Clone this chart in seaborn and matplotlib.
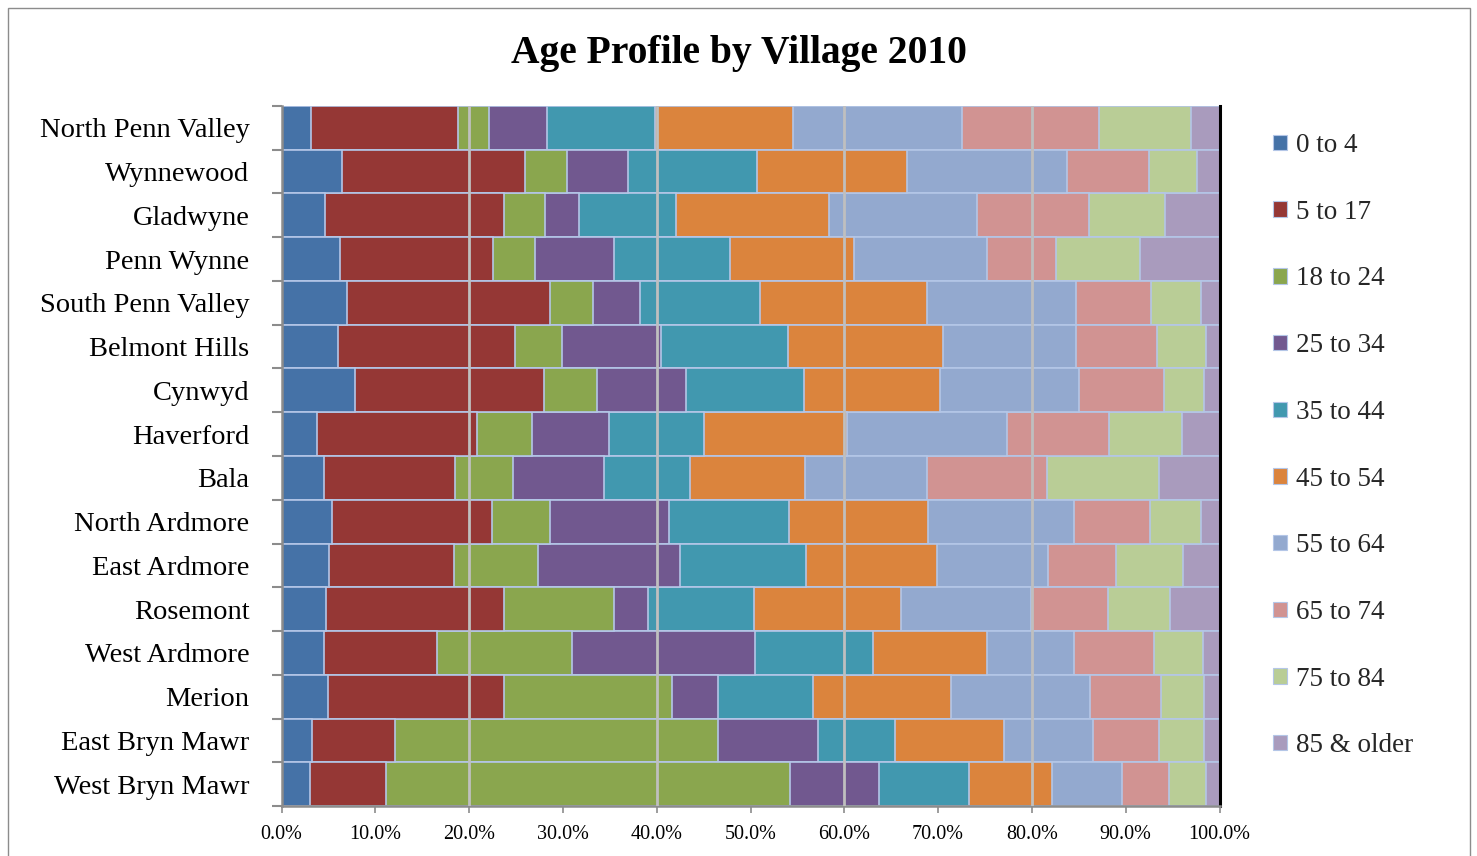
import numpy as np
import pandas as pd
import matplotlib
matplotlib.use("Agg")
import matplotlib.pyplot as plt
from matplotlib.patches import Patch, Rectangle
from matplotlib.ticker import FixedLocator, FixedFormatter
import seaborn as sns

# ---------------- data (percent of population) ----------------
villages = ["North Penn Valley", "Wynnewood", "Gladwyne", "Penn Wynne",
            "South Penn Valley", "Belmont Hills", "Cynwyd", "Haverford",
            "Bala", "North Ardmore", "East Ardmore", "Rosemont",
            "West Ardmore", "Merion", "East Bryn Mawr", "West Bryn Mawr"]

age_groups = ["0 to 4", "5 to 17", "18 to 24", "25 to 34", "35 to 44",
              "45 to 54", "55 to 64", "65 to 74", "75 to 84", "85 & older"]

age_0_4   = [3.2, 6.5, 4.6, 6.2, 7.0, 6.0, 7.8, 3.8, 4.5, 5.4, 5.1, 4.7, 4.5, 5.0, 3.2, 3.0]
age_5_17  = [15.6, 19.5, 19.1, 16.4, 21.6, 18.9, 20.2, 17.1, 14.0, 17.1, 13.3, 19.0, 12.1, 18.7, 8.9, 8.2]
age_18_24 = [3.3, 4.4, 4.4, 4.5, 4.6, 5.0, 5.6, 5.8, 6.2, 6.2, 9.0, 11.8, 14.4, 17.9, 34.4, 43.1]
age_25_34 = [6.2, 6.5, 3.6, 8.4, 5.0, 10.5, 9.5, 8.2, 9.7, 12.6, 15.1, 3.6, 19.5, 4.9, 10.7, 9.5]
age_35_44 = [11.6, 13.8, 10.3, 12.4, 12.8, 13.5, 12.5, 10.2, 9.1, 12.9, 13.5, 11.3, 12.6, 10.2, 8.2, 9.6]
age_45_54 = [14.7, 16.0, 16.3, 13.3, 17.8, 16.5, 14.5, 15.2, 12.3, 14.8, 13.9, 15.6, 12.2, 14.7, 11.6, 8.8]
age_55_64 = [18.0, 17.0, 15.8, 14.2, 15.9, 14.2, 14.8, 17.1, 13.0, 15.6, 11.9, 13.9, 9.3, 14.8, 9.5, 7.5]
age_65_74 = [14.6, 8.8, 11.9, 7.3, 8.0, 8.6, 9.1, 10.9, 12.8, 8.1, 7.3, 8.2, 8.5, 7.6, 7.0, 5.0]
age_75_84 = [9.9, 5.1, 8.1, 9.0, 5.3, 5.3, 4.2, 7.8, 11.9, 5.4, 7.1, 6.6, 5.2, 4.5, 4.8, 4.0]
age_85_up = [3.0, 2.4, 5.8, 8.5, 2.0, 1.4, 1.7, 4.0, 6.5, 2.0, 3.9, 5.3, 1.8, 1.7, 1.65, 1.4]

x_tick_values = [0, 10, 20, 30, 40, 50, 60, 70, 80, 90, 100]
grid_values = [20, 40, 60, 80]

colors = ["#4572A7", "#953735", "#8AA64E", "#71588F", "#4198AF",
          "#DB843D", "#93A9CF", "#D19392", "#B9CD96", "#A99BBD"]
edge_color = "#B4C6E7"

# ---------------- figure ----------------
sns.set_theme(style="white")
plt.rcParams["font.family"] = ["Liberation Serif", "DejaVu Serif"]

W, H = 1477, 856
fig = plt.figure(figsize=(W / 100, H / 100), dpi=100)
fig.patch.set_facecolor("white")
ax = fig.add_axes([281.5 / W, 50 / H, (1219.5 - 281.5) / W, (806 - 106) / H])

series = np.array([age_0_4, age_5_17, age_18_24, age_25_34, age_35_44,
                   age_45_54, age_55_64, age_65_74, age_75_84, age_85_up]).T
shares = series / series.sum(axis=1, keepdims=True) * 100
cum = np.cumsum(shares, axis=1)

df = pd.DataFrame(cum, columns=age_groups)
df["village"] = villages

# draw cumulative bars from the longest to the shortest (stacked effect)
for k in range(len(age_groups) - 1, -1, -1):
    sns.barplot(data=df, x=age_groups[k], y="village", order=villages,
                orient="y", color=colors[k], saturation=1, width=1.0,
                edgecolor=edge_color, linewidth=1.2, errorbar=None, ax=ax)

ax.set_xlim(0, 100)
ax.set_ylim(len(villages) - 0.5, -0.5)
ax.set_xlabel("")
ax.set_ylabel("")

# x ticks: gridlines only at 20/40/60/80 (major), labels at every 10%
minor_vals = [v for v in x_tick_values if v not in grid_values]
ax.xaxis.set_major_locator(FixedLocator(grid_values))
ax.xaxis.set_major_formatter(FixedFormatter([f"{v:.1f}%" for v in grid_values]))
ax.xaxis.set_minor_locator(FixedLocator(minor_vals))
ax.xaxis.set_minor_formatter(FixedFormatter([f"{v:.1f}%" for v in minor_vals]))
ax.tick_params(axis="x", which="both", bottom=True, length=5, width=1.2,
               color="#8C8C8C", labelsize=14.5, pad=9, labelcolor="black")

ax.set_axisbelow(False)
ax.grid(axis="x", which="major", color="#BFBFBF", linewidth=2.0)
ax.grid(axis="y", visible=False)

# y ticks: labels at centers, tick marks between categories
ax.tick_params(axis="y", which="major", length=0, labelsize=20.5, pad=23,
               labelcolor="black")
ax.set_yticks(np.arange(-0.5, len(villages), 1.0), minor=True)
ax.tick_params(axis="y", which="minor", left=True, length=7, width=1.5,
               color="#8C8C8C")

for side in ["left", "bottom"]:
    ax.spines[side].set_visible(True)
    ax.spines[side].set_color("#8C8C8C")
    ax.spines[side].set_linewidth(1.8)
ax.spines["top"].set_visible(False)
ax.spines["right"].set_visible(True)
ax.spines["right"].set_color("black")
ax.spines["right"].set_linewidth(2.2)

# title
fig.text(0.5, 1 - 53 / H, "Age Profile by Village 2010", ha="center",
         va="center", fontsize=28.5, fontweight="bold", color="black")

# legend
handles = [Patch(facecolor=c, edgecolor=edge_color, linewidth=0.8) for c in colors]
fig.legend(handles, age_groups, loc="upper left",
           bbox_to_anchor=(1273 / W, 1 - 133 / H), frameon=False,
           fontsize=19.5, handlelength=0.5, handleheight=0.5,
           handletextpad=0.35, labelspacing=1.54, borderpad=0,
           borderaxespad=0)

# outer chart border
fig.add_artist(Rectangle((8 / W, -0.02), (1470 - 8) / W, (H - 8) / H + 0.02,
                         transform=fig.transFigure, fill=False,
                         edgecolor="#8C8C8C", linewidth=1.0))

fig.savefig("out.png", dpi=100)
